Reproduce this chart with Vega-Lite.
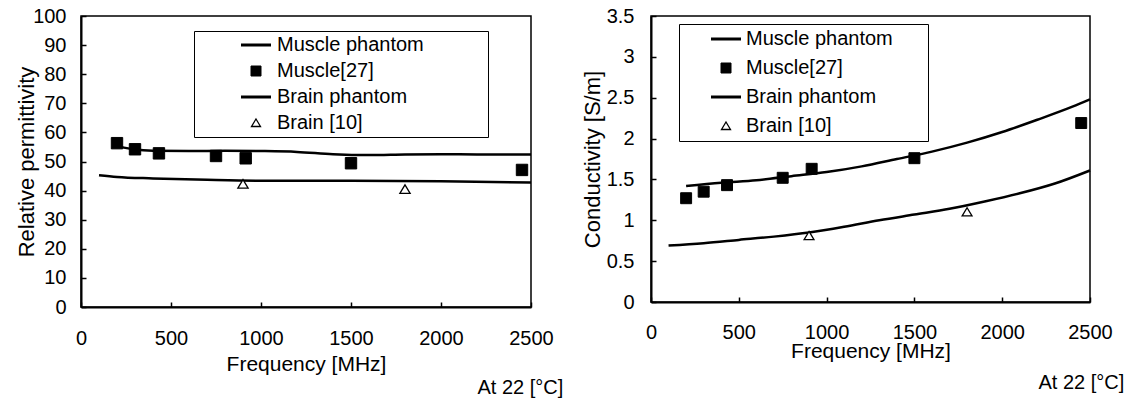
{
  "$schema": "https://vega.github.io/schema/vega-lite/v6.json",
  "background": "white",
  "padding": {"left": 14, "top": 5, "right": 5, "bottom": 5},
  "spacing": 16,
  "config": {
    "font": "Liberation Sans",
    "view": {"stroke": "black", "strokeWidth": 1.5},
    "axis": {
      "grid": false,
      "domain": true,
      "domainColor": "black",
      "domainWidth": 2,
      "ticks": true,
      "tickSize": -5,
      "tickColor": "black",
      "tickWidth": 1.5,
      "labelFontSize": 20,
      "labelColor": "black",
      "labelFont": "Liberation Sans",
      "labelFlush": false,
      "labelOverlap": false,
      "titleFont": "Liberation Sans",
      "titleFontWeight": "normal",
      "titleColor": "black"
    },
    "legend": {
      "labelFont": "Liberation Sans",
      "labelFontSize": 20,
      "labelColor": "black",
      "labelLimit": 500,
      "symbolSize": 100,
      "symbolStrokeColor": "black",
      "strokeColor": "black",
      "fillColor": "white"
    }
  },
  "resolve": {
    "scale": {"x": "independent", "y": "independent", "shape": "independent", "fill": "independent", "stroke": "independent", "strokeWidth": "independent"},
    "legend": {"shape": "independent", "fill": "independent", "stroke": "independent", "strokeWidth": "independent"}
  },
  "hconcat": [
    {
      "width": 450,
      "height": 291,
      "title": {"text": "At 22 [°C]", "orient": "bottom", "anchor": "end", "dx": 10, "offset": 4, "fontSize": 20, "fontWeight": "normal", "font": "Liberation Sans", "color": "black"},
      "encoding": {
        "x": {"field": "f", "type": "quantitative", "scale": {"domain": [0, 2500], "nice": false},
          "axis": {"title": "Frequency [MHz]", "values": [0, 500, 1000, 1500, 2000, 2500], "format": "d", "labelOverlap": false, "labelPadding": 26, "titlePadding": 5, "titleFontSize": 21}},
        "y": {"field": "v", "type": "quantitative", "scale": {"domain": [0, 100], "nice": false},
          "axis": {"title": "Relative permittivity", "values": [0, 10, 20, 30, 40, 50, 60, 70, 80, 90, 100], "format": "d", "labelOverlap": false, "labelPadding": 20, "titlePadding": -6, "titleFontSize": 22}}
      },
      "layer": [
        {
          "data": {"values": [
            {"series": "Muscle phantom", "f": 210, "v": 55.2},
            {"series": "Muscle phantom", "f": 300, "v": 54.1},
            {"series": "Muscle phantom", "f": 400, "v": 53.7},
            {"series": "Muscle phantom", "f": 600, "v": 53.6},
            {"series": "Muscle phantom", "f": 800, "v": 53.7},
            {"series": "Muscle phantom", "f": 1000, "v": 53.6},
            {"series": "Muscle phantom", "f": 1200, "v": 53.3},
            {"series": "Muscle phantom", "f": 1400, "v": 52.5},
            {"series": "Muscle phantom", "f": 1600, "v": 52.2},
            {"series": "Muscle phantom", "f": 1800, "v": 52.4},
            {"series": "Muscle phantom", "f": 2000, "v": 52.5},
            {"series": "Muscle phantom", "f": 2200, "v": 52.4},
            {"series": "Muscle phantom", "f": 2500, "v": 52.4},
            {"series": "Brain phantom", "f": 100, "v": 45.3},
            {"series": "Brain phantom", "f": 200, "v": 44.7},
            {"series": "Brain phantom", "f": 400, "v": 44.2},
            {"series": "Brain phantom", "f": 700, "v": 43.7},
            {"series": "Brain phantom", "f": 1000, "v": 43.4},
            {"series": "Brain phantom", "f": 1500, "v": 43.4},
            {"series": "Brain phantom", "f": 2000, "v": 43.2},
            {"series": "Brain phantom", "f": 2500, "v": 42.8}
          ]},
          "mark": {"type": "line", "color": "black", "strokeWidth": 2.5, "interpolate": "monotone"},
          "encoding": {
            "detail": {"field": "series"}
          }
        },
        {
          "data": {"values": [
            {"series": "Muscle[27]", "f": 200, "v": 56.3},
            {"series": "Muscle[27]", "f": 300, "v": 54.2},
            {"series": "Muscle[27]", "f": 433, "v": 52.8},
            {"series": "Muscle[27]", "f": 750, "v": 51.9},
            {"series": "Muscle[27]", "f": 915, "v": 51.1},
            {"series": "Muscle[27]", "f": 1500, "v": 49.4},
            {"series": "Muscle[27]", "f": 2450, "v": 47.1},
            {"series": "Brain [10]", "f": 900, "v": 42.2},
            {"series": "Brain [10]", "f": 1800, "v": 40.4}
          ]},
          "mark": {"type": "point", "size": 130, "opacity": 1},
          "encoding": {
            "shape": {"field": "series", "type": "nominal",
              "scale": {"domain": ["Muscle phantom", "Muscle[27]", "Brain phantom", "Brain [10]"],
                "range": ["M-3,0H3", "square", "M-3,0H3", "M0,-0.8L0.9,0.7L-0.9,0.7Z"]},
              "legend": {"title": null, "orient": "none", "legendX": 113, "legendY": 15, "padding": 4, "rowPadding": 6, "symbolOffset": 48, "labelOffset": 11,
                "labelExpr": "datum.label + '\u2800\u2800\u2800\u2800'"}},
            "fill": {"field": "series", "type": "nominal",
              "scale": {"domain": ["Muscle phantom", "Muscle[27]", "Brain phantom", "Brain [10]"],
                "range": ["black", "black", "black", "white"]},
              "legend": {"title": null, "orient": "none", "legendX": 113, "legendY": 15, "padding": 4, "rowPadding": 6, "symbolOffset": 48, "labelOffset": 11,
                "labelExpr": "datum.label + '\u2800\u2800\u2800\u2800'"}},
            "stroke": {"field": "series", "type": "nominal",
              "scale": {"domain": ["Muscle phantom", "Muscle[27]", "Brain phantom", "Brain [10]"],
                "range": ["black", "black", "black", "black"]},
              "legend": {"title": null, "orient": "none", "legendX": 113, "legendY": 15, "padding": 4, "rowPadding": 6, "symbolOffset": 48, "labelOffset": 11,
                "labelExpr": "datum.label + '\u2800\u2800\u2800\u2800'"}},
            "strokeWidth": {"field": "series", "type": "nominal",
              "scale": {"type": "ordinal", "domain": ["Muscle phantom", "Muscle[27]", "Brain phantom", "Brain [10]"],
                "range": [3, 1, 3, 1.3]},
              "legend": {"title": null, "orient": "none", "legendX": 113, "legendY": 15, "padding": 4, "rowPadding": 6, "symbolOffset": 48, "labelOffset": 11,
                "labelExpr": "datum.label + '\u2800\u2800\u2800\u2800'"}}
          }
        }
      ]
    },
    {
      "width": 439,
      "height": 286,
      "title": {"text": "At 22 [°C]", "orient": "bottom", "anchor": "end", "dx": 12, "offset": 12, "fontSize": 20, "fontWeight": "normal", "font": "Liberation Sans", "color": "black"},
      "encoding": {
        "x": {"field": "f", "type": "quantitative", "scale": {"domain": [0, 2500], "nice": false},
          "axis": {"title": "Frequency [MHz]", "values": [0, 500, 1000, 1500, 2000, 2500], "format": "d", "labelOverlap": false, "labelPadding": 25, "titlePadding": -2, "titleFontSize": 21}},
        "y": {"field": "v", "type": "quantitative", "scale": {"domain": [0, 3.5], "nice": false},
          "axis": {"title": "Conductivity [S/m]", "values": [0, 0.5, 1, 1.5, 2, 2.5, 3, 3.5], "format": "~g", "labelOverlap": false, "labelPadding": 22, "titlePadding": 2, "titleFontSize": 22}}
      },
      "layer": [
        {
          "data": {"values": [
            {"series": "Muscle phantom", "f": 200, "v": 1.42},
            {"series": "Muscle phantom", "f": 400, "v": 1.46},
            {"series": "Muscle phantom", "f": 600, "v": 1.49},
            {"series": "Muscle phantom", "f": 800, "v": 1.54},
            {"series": "Muscle phantom", "f": 1000, "v": 1.59},
            {"series": "Muscle phantom", "f": 1200, "v": 1.66},
            {"series": "Muscle phantom", "f": 1400, "v": 1.75},
            {"series": "Muscle phantom", "f": 1600, "v": 1.84},
            {"series": "Muscle phantom", "f": 1800, "v": 1.95},
            {"series": "Muscle phantom", "f": 2000, "v": 2.08},
            {"series": "Muscle phantom", "f": 2200, "v": 2.23},
            {"series": "Muscle phantom", "f": 2400, "v": 2.39},
            {"series": "Muscle phantom", "f": 2500, "v": 2.48},
            {"series": "Brain phantom", "f": 100, "v": 0.69},
            {"series": "Brain phantom", "f": 300, "v": 0.72},
            {"series": "Brain phantom", "f": 500, "v": 0.76},
            {"series": "Brain phantom", "f": 700, "v": 0.80},
            {"series": "Brain phantom", "f": 900, "v": 0.85},
            {"series": "Brain phantom", "f": 1100, "v": 0.92},
            {"series": "Brain phantom", "f": 1300, "v": 1.00},
            {"series": "Brain phantom", "f": 1500, "v": 1.07},
            {"series": "Brain phantom", "f": 1700, "v": 1.14},
            {"series": "Brain phantom", "f": 1900, "v": 1.23},
            {"series": "Brain phantom", "f": 2100, "v": 1.33},
            {"series": "Brain phantom", "f": 2300, "v": 1.45},
            {"series": "Brain phantom", "f": 2500, "v": 1.61}
          ]},
          "mark": {"type": "line", "color": "black", "strokeWidth": 2.5, "interpolate": "monotone"},
          "encoding": {
            "detail": {"field": "series"}
          }
        },
        {
          "data": {"values": [
            {"series": "Muscle[27]", "f": 200, "v": 1.27},
            {"series": "Muscle[27]", "f": 300, "v": 1.35},
            {"series": "Muscle[27]", "f": 433, "v": 1.43},
            {"series": "Muscle[27]", "f": 750, "v": 1.52},
            {"series": "Muscle[27]", "f": 915, "v": 1.63},
            {"series": "Muscle[27]", "f": 1500, "v": 1.76},
            {"series": "Muscle[27]", "f": 2450, "v": 2.19},
            {"series": "Brain [10]", "f": 900, "v": 0.81},
            {"series": "Brain [10]", "f": 1800, "v": 1.10}
          ]},
          "mark": {"type": "point", "size": 120, "opacity": 1},
          "encoding": {
            "shape": {"field": "series", "type": "nominal",
              "scale": {"domain": ["Muscle phantom", "Muscle[27]", "Brain phantom", "Brain [10]"],
                "range": ["M-3,0H3", "square", "M-3,0H3", "M0,-0.8L0.9,0.7L-0.9,0.7Z"]},
              "legend": {"title": null, "orient": "none", "legendX": 28, "legendY": 8, "padding": 5, "rowPadding": 9, "symbolOffset": 32, "labelOffset": 10,
                "labelExpr": "datum.label + '\u2800\u2800'"}},
            "fill": {"field": "series", "type": "nominal",
              "scale": {"domain": ["Muscle phantom", "Muscle[27]", "Brain phantom", "Brain [10]"],
                "range": ["black", "black", "black", "white"]},
              "legend": {"title": null, "orient": "none", "legendX": 28, "legendY": 8, "padding": 5, "rowPadding": 9, "symbolOffset": 32, "labelOffset": 10,
                "labelExpr": "datum.label + '\u2800\u2800'"}},
            "stroke": {"field": "series", "type": "nominal",
              "scale": {"domain": ["Muscle phantom", "Muscle[27]", "Brain phantom", "Brain [10]"],
                "range": ["black", "black", "black", "black"]},
              "legend": {"title": null, "orient": "none", "legendX": 28, "legendY": 8, "padding": 5, "rowPadding": 9, "symbolOffset": 32, "labelOffset": 10,
                "labelExpr": "datum.label + '\u2800\u2800'"}},
            "strokeWidth": {"field": "series", "type": "nominal",
              "scale": {"type": "ordinal", "domain": ["Muscle phantom", "Muscle[27]", "Brain phantom", "Brain [10]"],
                "range": [3, 1, 3, 1.3]},
              "legend": {"title": null, "orient": "none", "legendX": 28, "legendY": 8, "padding": 5, "rowPadding": 9, "symbolOffset": 32, "labelOffset": 10,
                "labelExpr": "datum.label + '\u2800\u2800'"}}
          }
        }
      ]
    }
  ]
}
